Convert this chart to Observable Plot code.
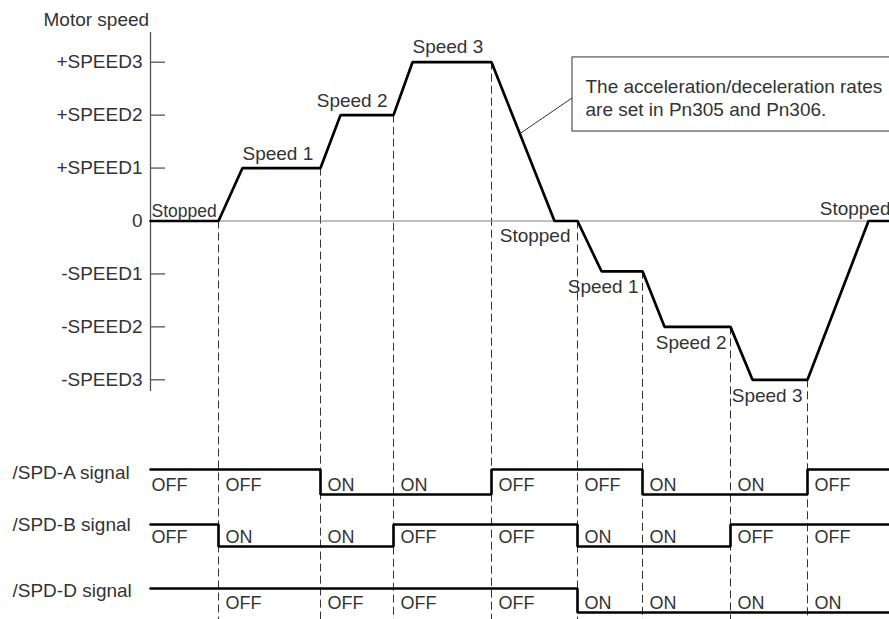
<!DOCTYPE html>
<html>
<head>
<meta charset="utf-8">
<script src="https://cdn.jsdelivr.net/npm/d3@7"></script>
<script src="https://cdn.jsdelivr.net/npm/@observablehq/plot@0.6"></script>
<style>
  html, body { margin: 0; padding: 0; background: #fff; }
  #chart { position: relative; width: 889px; height: 619px; overflow: hidden; }
  #chart svg { position: absolute; left: 0; }
</style>
</head>
<body>
<div id="chart"></div>
<script>
// ---------- data (time in arbitrary units) ----------
const speedT = [0, 68, 92, 170, 190, 243, 262, 341, 404, 427, 451, 492, 514, 580, 602, 657, 718, 739];
const speedV = [0, 0, 1, 1, 2, 2, 3, 3, 0, 0, -0.95, -0.95, -2, -2, -3, -3, 0, 0];
const phaseNames = ["Stopped", "Speed 1", "Speed 2", "Speed 3", "Stopped", "Speed 1", "Speed 2", "Speed 3", "Stopped"];
const tickValues = [3, 2, 1, 0, -1, -2, -3];
const tickLabels = ["+SPEED3", "+SPEED2", "+SPEED1", "0", "-SPEED1", "-SPEED2", "-SPEED3"];
const signalNames = ["/SPD-A signal", "/SPD-B signal", "/SPD-D signal"];
const spdA = ["OFF", "OFF", "ON", "ON", "OFF", "OFF", "ON", "ON", "OFF"];
const spdB = ["OFF", "ON", "ON", "OFF", "OFF", "ON", "ON", "OFF", "OFF"];
const spdD = ["OFF", "OFF", "OFF", "OFF", "OFF", "ON", "ON", "ON", "ON"];
const spdALabeled = [true, true, true, true, true, true, true, true, true];
const spdBLabeled = [true, true, true, true, true, true, true, true, true];
const spdDLabeled = [false, true, true, true, true, true, true, true, true];
const calloutLines = ["The acceleration/deceleration rates", "are set in Pn305 and Pn306."];
const yTitle = "Motor speed";

// ---------- layout ----------
const W = 889, H = 619, ML = 150;
const xDomain = [0, 739];
const font = '"Liberation Sans", Arial, Helvetica, sans-serif';
const ink = "#333";
const axisTop = 3.56, axisBottom = -3.22;  // extent of the vertical axis line (speed units)
const guideBottom = -7.7;                  // dashed guides run past the bottom edge
const box = {t0: 422, t1: 790, v0: 1.69, v1: 3.09, leaderV: 2.33};
const calloutFrac = 0.45;

const root = document.getElementById("chart");

// derived structures
const profile = speedT.map((t, i) => ({t, v: speedV[i]}));
const flats = phaseNames.map((name, i) => ({name, t0: speedT[2 * i], t1: speedT[2 * i + 1], v: speedV[2 * i]}));
const events = flats.slice(0, -1).map(f => ({t: f.t1, v: f.v}));
const phaseStart = [xDomain[0], ...events.map(e => e.t)];
const rampPt = {
  t: speedT[7] + calloutFrac * (speedT[8] - speedT[7]),
  v: speedV[7] + calloutFrac * (speedV[8] - speedV[7])
};

const labelPlace = [
  {at: "t0", anchor: "start", dx: 1, dy: -4, size: 17.5},
  {at: "t0", anchor: "start", dx: 0, dy: -8, size: 19},
  {at: "t1", anchor: "end", dx: -6, dy: -8, size: 19},
  {at: "t0", anchor: "start", dx: 0, dy: -9, size: 19},
  {at: "t1", anchor: "end", dx: -7, dy: 21, size: 19},
  {at: "t1", anchor: "end", dx: -4, dy: 22, size: 19},
  {at: "t1", anchor: "end", dx: -4, dy: 22, size: 19},
  {at: "t1", anchor: "end", dx: -5, dy: 22, size: 19},
  {at: "t1", anchor: "end", dx: 1, dy: -6, size: 19}
];

const phaseLabelMarks = flats.map((f, i) => {
  const p = labelPlace[i];
  return Plot.text([f], {
    x: d => d[p.at], y: "v", text: "name",
    textAnchor: p.anchor, lineAnchor: "bottom", dx: p.dx, dy: p.dy,
    fill: ink, fontSize: p.size
  });
});

// ---------- speed plot ----------
const speedPlot = Plot.plot({
  width: W, height: H,
  marginLeft: ML, marginRight: 0, marginTop: 0, marginBottom: 0,
  x: {domain: xDomain, axis: null},
  y: {domain: [-3, 3], range: [379.3, 61.7], axis: null},
  style: {fontFamily: font, fontSize: "19px", background: "white"},
  marks: [
    Plot.ruleX(events, {x: "t", y1: "v", y2: () => guideBottom, stroke: "#333", strokeWidth: 1, strokeDasharray: "8,4"}),
    Plot.ruleY([0], {stroke: "#808080", strokeWidth: 1}),
    Plot.ruleX([xDomain[0]], {y1: axisTop, y2: axisBottom, stroke: "#555", strokeWidth: 1.3}),
    Plot.axisY(tickValues, {
      anchor: "left",
      tickFormat: d => tickLabels[tickValues.indexOf(d)],
      tickSize: -15, tickPadding: 23,
      stroke: "#555", strokeWidth: 1.3, fill: ink, fontSize: 19, label: null
    }),
    Plot.line(profile, {x: "t", y: "v", stroke: "#000", strokeWidth: 2.7, strokeLinejoin: "miter"}),
    Plot.link([rampPt], {x1: "t", y1: "v", x2: () => box.t0, y2: () => box.leaderV, stroke: "#333", strokeWidth: 1}),
    Plot.rect([box], {x1: "t0", x2: "t1", y1: "v0", y2: "v1", fill: "white", stroke: "#333", strokeWidth: 1}),
    Plot.text([calloutLines.join("\n")], {
      x: () => box.t0, y: () => box.v1, textAnchor: "start", lineAnchor: "top",
      dx: 13, dy: 19.5, lineHeight: 1.21, fill: ink, fontSize: 19
    }),
    Plot.text([yTitle], {frameAnchor: "top-left", textAnchor: "start", lineAnchor: "bottom", dx: -107, dy: 25, fill: ink, fontSize: 19}),
    ...phaseLabelMarks
  ]
});
speedPlot.style.top = "0px";
root.appendChild(speedPlot);

// ---------- signal plots ----------
const sigLayout = [
  {top: 449, hi: 20, lo: 45, nameDy: 3},
  {top: 504, hi: 20, lo: 42, nameDy: 0},
  {top: 568, hi: 20, lo: 44, nameDy: 2}
];
const sigStates = [spdA, spdB, spdD];
const sigLabeled = [spdALabeled, spdBLabeled, spdDLabeled];
const level = s => (s === "OFF" ? 1 : 0);

signalNames.forEach((name, k) => {
  const states = sigStates[k];
  const L = sigLayout[k];
  const pts = states.map((s, i) => ({t: phaseStart[i], s: level(s)}));
  pts.push({t: xDomain[1], s: level(states[states.length - 1])});
  const lab = states.map((s, i) => ({t: phaseStart[i], state: s, i})).filter(d => sigLabeled[k][d.i]);
  const p = Plot.plot({
    width: W, height: 51,
    marginLeft: ML, marginRight: 0, marginTop: 0, marginBottom: 0,
    x: {domain: xDomain, axis: null},
    y: {domain: [0, 1], range: [L.lo, L.hi], axis: null},
    style: {fontFamily: font, fontSize: "18px", background: "transparent"},
    marks: [
      Plot.line(pts, {x: "t", y: "s", curve: "step-after", stroke: "#000", strokeWidth: 2.6, strokeLinejoin: "miter"}),
      Plot.text(lab.filter(d => d.i === 0), {x: "t", y: () => 0, text: "state", textAnchor: "start", lineAnchor: "bottom", dx: 1, dy: -4, fill: ink, fontSize: 18}),
      Plot.text(lab.filter(d => d.i > 0), {x: "t", y: () => 0, text: "state", textAnchor: "start", lineAnchor: "bottom", dx: 7, dy: -4, fill: ink, fontSize: 18}),
      Plot.text([name], {x: () => xDomain[0], y: () => 1, textAnchor: "start", lineAnchor: "middle", dx: -138, dy: L.nameDy, fill: ink, fontSize: 19})
    ]
  });
  p.style.top = L.top + "px";
  root.appendChild(p);
});
</script>
</body>
</html>
